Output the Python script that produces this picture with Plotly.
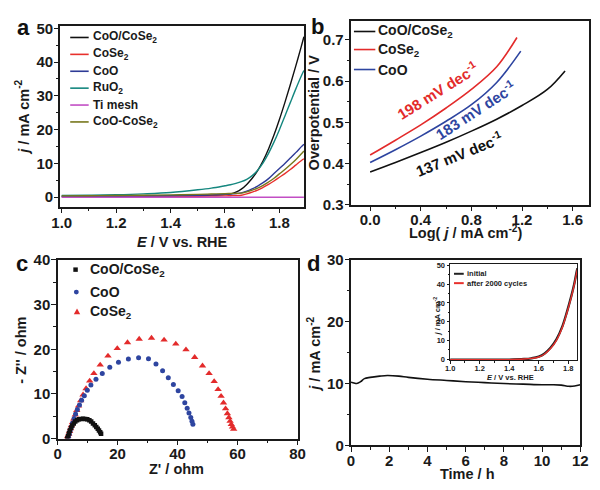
import plotly.graph_objects as go

W, H = 600, 490
def X(px): return px / W
def Y(py): return 1 - py / H

FONT = "Liberation Sans, Arial, sans-serif"
AX = "#1a1a1a"

# ---------------- Panel a: LSV ----------------
a_E = [1.0, 1.1, 1.2, 1.3, 1.4, 1.5, 1.55, 1.6, 1.62, 1.64, 1.66, 1.68, 1.70, 1.72, 1.74,
       1.76, 1.78, 1.80, 1.82, 1.84, 1.86, 1.88, 1.89]
a_coo_cose2 = [0.3, 0.3, 0.3, 0.35, 0.4, 0.5, 0.55, 0.8, 1.0, 1.5, 2.4, 3.8, 5.6, 7.9, 10.8,
               14.3, 18.4, 23.0, 28.0, 33.3, 38.8, 44.5, 47.5]
a_cose2 = [0.1, 0.1, 0.15, 0.2, 0.25, 0.3, 0.35, 0.4, 0.45, 0.5, 0.6, 1.0, 1.5, 2.1, 2.9,
           3.8, 4.8, 5.9, 7.0, 8.2, 9.5, 10.8, 11.4]
a_coo = [0.2, 0.25, 0.3, 0.35, 0.45, 0.6, 0.7, 0.85, 0.95, 1.1, 1.3, 1.8, 2.5, 3.3, 4.3,
         5.5, 7.0, 8.5, 10.0, 11.6, 13.2, 14.9, 15.7]
a_ruo2 = [0.5, 0.6, 0.75, 1.0, 1.4, 2.2, 2.7, 3.4, 3.7, 4.1, 4.6, 5.3, 6.4, 8.0, 10.2,
          13.0, 16.3, 20.0, 24.0, 28.0, 32.0, 35.8, 37.5]
a_ti = [0.0] * 23
a_mix = [0.4, 0.45, 0.5, 0.6, 0.7, 0.85, 0.95, 1.05, 1.1, 1.15, 1.2, 1.6, 2.1, 2.7, 3.5,
         4.5, 5.6, 6.9, 8.2, 9.6, 11.1, 12.8, 13.7]
a_names = ["CoO/CoSe<sub>2</sub>", "CoSe<sub>2</sub>", "CoO", "RuO<sub>2</sub>", "Ti mesh",
           "CoO-CoSe<sub>2</sub>"]
a_colors = ["#111111", "#e8302c", "#2e3b96", "#15877f", "#c24ec4", "#77771c"]

# ---------------- Panel b: Tafel ----------------
b_x_coo_cose2 = [0.0, 0.2, 0.4, 0.6, 0.8, 1.0, 1.2, 1.4, 1.54]
b_y_coo_cose2 = [0.380, 0.403, 0.427, 0.452, 0.479, 0.508, 0.541, 0.580, 0.625]
b_x_cose2 = [0.0, 0.2, 0.4, 0.6, 0.8, 1.0, 1.16]
b_y_cose2 = [0.421, 0.457, 0.494, 0.535, 0.580, 0.635, 0.706]
b_x_coo = [0.0, 0.2, 0.4, 0.6, 0.8, 1.0, 1.19]
b_y_coo = [0.403, 0.434, 0.467, 0.503, 0.543, 0.597, 0.673]
b_names = ["CoO/CoSe<sub>2</sub>", "CoSe<sub>2</sub>", "CoO"]
b_colors = ["#111111", "#e32b2b", "#2e45a0"]
b_slopes = ["198 mV dec<sup>-1</sup>", "183 mV dec<sup>-1</sup>", "137 mV dec<sup>-1</sup>"]

# ---------------- Panel c: Nyquist ----------------
c_zr_coo_cose2 = [3.2, 3.5, 3.8, 4.1, 4.5, 4.9, 5.4, 5.9, 6.5, 7.1, 7.8, 8.5, 9.2, 9.9, 10.6,
                  11.2, 11.8, 12.4, 12.9, 13.4, 13.8, 14.2, 14.5]
c_zi_coo_cose2 = [0.0, 0.6, 1.2, 1.8, 2.4, 2.9, 3.4, 3.8, 4.1, 4.3, 4.4, 4.45, 4.4, 4.3, 4.1,
                  3.8, 3.4, 3.0, 2.6, 2.2, 1.8, 1.4, 1.1]
c_zr_coo = [3.6, 3.9, 4.2, 4.6, 5.0, 5.5, 6.0, 6.6, 7.3, 8.0, 8.9, 9.9, 11.1, 12.8, 14.9,
            17.4, 20.3, 23.6, 27.0, 30.3, 32.8, 35.0, 36.9, 38.6, 40.2, 41.5, 42.4, 43.2,
            43.8, 44.4, 44.8, 45.1]
c_zi_coo = [0.3, 1.0, 1.8, 2.6, 3.5, 4.5, 5.5, 6.5, 7.5, 8.6, 9.6, 10.8, 12.0, 13.3, 14.6,
            16.0, 17.1, 17.8, 18.1, 17.9, 16.7, 15.2, 13.6, 12.1, 10.7, 9.4, 8.0, 6.8,
            5.7, 4.7, 3.9, 3.2]
c_zr_cose2 = [3.2, 3.4, 3.7, 4.0, 4.3, 4.6, 5.0, 5.4, 5.9, 6.4, 7.0, 7.7, 8.5, 9.5, 10.7,
              12.1, 14.2, 16.8, 19.9, 23.3, 27.2, 31.3, 35.5, 39.4, 42.8, 45.7, 48.3, 50.5,
              52.2, 53.5, 54.5, 55.3, 56.0, 56.6, 57.1, 57.5, 57.9, 58.3, 58.7]
c_zi_cose2 = [0.0, 0.5, 1.0, 1.6, 2.2, 2.9, 3.6, 4.4, 5.3, 6.3, 7.3, 8.5, 9.8, 11.2, 12.9,
              14.6, 16.5, 18.5, 20.2, 21.5, 22.3, 22.5, 22.1, 21.2, 19.9, 18.2, 16.3, 14.6,
              12.8, 11.0, 9.5, 8.0, 6.7, 5.6, 4.7, 3.9, 3.2, 2.6, 2.1]
c_names = ["CoO/CoSe<sub>2</sub>", "CoO", "CoSe<sub>2</sub>"]
c_colors = ["#111111", "#2e45a0", "#e32b2b"]

# ---------------- Panel d: stability ----------------
d_t = [0, 0.15, 0.3, 0.5, 0.7, 1.0, 1.5, 1.9, 2.5, 3, 4, 5, 6, 7, 8, 9, 10, 10.5, 11, 11.4,
       11.7, 12]
d_j = [10.2, 10.1, 10.0, 10.3, 10.8, 11.0, 11.2, 11.3, 11.2, 11.0, 10.7, 10.5, 10.3, 10.15,
       10.0, 9.9, 9.8, 9.8, 9.75, 9.55, 9.6, 9.8]
# inset
i_E = [1.0, 1.2, 1.4, 1.5, 1.55, 1.6, 1.64, 1.68, 1.72, 1.76, 1.79, 1.82, 1.84, 1.855, 1.862]
i_initial = [-0.4, -0.4, -0.3, 0.0, 0.4, 1.3, 3.0, 6.0, 10.5, 17.5, 25.0, 33.5, 40.0, 46.0, 48.5]
i_after = [-0.4, -0.4, -0.3, 0.0, 0.35, 1.1, 2.7, 5.6, 10.0, 17.0, 24.5, 33.0, 39.5, 45.5, 48.0]
i_names = ["initial", "after 2000 cycles"]
i_colors = ["#222222", "#e8302c"]

fig = go.Figure()

for ys, c in zip([a_coo_cose2, a_cose2, a_coo, a_ruo2, a_ti, a_mix], a_colors):
    fig.add_trace(go.Scatter(x=a_E, y=ys, mode="lines", line=dict(color=c, width=1.4, shape="spline"),
                             xaxis="x", yaxis="y"))

for xs, ys, c in [(b_x_coo_cose2, b_y_coo_cose2, b_colors[0]), (b_x_cose2, b_y_cose2, b_colors[1]),
                  (b_x_coo, b_y_coo, b_colors[2])]:
    fig.add_trace(go.Scatter(x=xs, y=ys, mode="lines", line=dict(color=c, width=1.6, shape="spline"),
                             xaxis="x2", yaxis="y2"))

for xs, ys, c, sym, sz in [(c_zr_cose2, c_zi_cose2, c_colors[2], "triangle-up", 6.5),
                           (c_zr_coo, c_zi_coo, c_colors[1], "circle", 5),
                           (c_zr_coo_cose2, c_zi_coo_cose2, c_colors[0], "square", 4.5)]:
    fig.add_trace(go.Scatter(x=xs, y=ys, mode="markers", marker=dict(color=c, symbol=sym, size=sz),
                             xaxis="x3", yaxis="y3"))

fig.add_trace(go.Scatter(x=d_t, y=d_j, mode="lines", line=dict(color="#111111", width=1.6, shape="spline"),
                         xaxis="x4", yaxis="y4"))
fig.add_trace(go.Scatter(x=i_E, y=i_initial, mode="lines", line=dict(color=i_colors[0], width=2.4, shape="spline"),
                         xaxis="x5", yaxis="y5"))
fig.add_trace(go.Scatter(x=i_E, y=i_after, mode="lines", line=dict(color=i_colors[1], width=1.4, shape="spline"),
                         xaxis="x5", yaxis="y5"))


def axis(domain, rng, dtick, mdtick, anchor, tick0=None, fs=15, tl=4.5, mtl=2.5, lw=1.6,
         fmt=None, standoff=0):
    d = dict(domain=domain, range=rng, dtick=dtick, anchor=anchor, showgrid=False, zeroline=False,
             showline=True, mirror=True, linecolor=AX, linewidth=lw, ticks="outside", ticklen=tl,
             tickwidth=1.3, tickcolor=AX, ticklabelstandoff=standoff,
             tickfont=dict(family=FONT, size=fs, color="#1a1a1a", weight="bold"),
             minor=dict(dtick=mdtick, ticks="outside", ticklen=mtl, tickwidth=1, tickcolor=AX))
    if tick0 is not None:
        d["tick0"] = tick0
        d["minor"]["tick0"] = tick0
    if fmt:
        d["tickformat"] = fmt
    return d

fig.update_layout(
    width=W, height=H, margin=dict(l=0, r=0, t=0, b=0),
    paper_bgcolor="white", plot_bgcolor="white", showlegend=False,
    xaxis=axis([X(53), X(304)], [0.9954, 1.8918], 0.2, 0.1, "y", tick0=1.0, fmt=".1f", standoff=-3),
    yaxis=axis([Y(205), Y(18)], [-2.86, 50.57], 10, 5, "x", tick0=0, standoff=-2),
    xaxis2=axis([X(352), X(597)], [-0.151, 1.730], 0.4, 0.2, "y2", tick0=0, fmt=".1f", standoff=-4),
    yaxis2=axis([Y(203), Y(12)], [0.3, 0.747], 0.1, 0.05, "x2", tick0=0.3, fmt=".1f", standoff=-2),
    xaxis3=axis([X(50), X(297)], [0, 80], 20, 10, "y3", tick0=0, standoff=-4),
    yaxis3=axis([Y(445), Y(260)], [0, 40], 10, 5, "x3", tick0=0, standoff=-2),
    xaxis4=axis([X(352), X(588)], [0, 12], 2, 1, "y4", tick0=0, standoff=-4),
    yaxis4=axis([Y(452), Y(260)], [0, 30], 10, 5, "x4", tick0=0, standoff=-2),
    xaxis5=axis([X(454), X(585)], [1.0, 1.862], 0.2, 0.1, "y5", tick0=1.0, fs=7.5, tl=2.5, mtl=1.5,
                lw=1.2, fmt=".1f", standoff=-2),
    yaxis5=axis([Y(364), Y(264)], [-0.7, 50.9], 10, 5, "x5", tick0=0, fs=7.5, tl=2.5, mtl=1.5, lw=1.2),
)

ann = []
shapes = []

def text(px, py, s, size=14, color="#1a1a1a", xanchor="center", angle=0):
    ann.append(dict(x=X(px), y=Y(py), xref="paper", yref="paper", text=s, showarrow=False,
                    xanchor=xanchor, yanchor="middle", textangle=angle,
                    font=dict(family=FONT, size=size, color=color, weight="bold")))

# panel letters
text(15, 19, "a", 22, "#111111")
text(318, 18, "b", 22, "#111111")
text(13, 264, "c", 22, "#111111")
text(313, 264, "d", 22, "#111111")

# axis titles
text(178.5, 241, "<i>E</i> / V vs. RHE", 14.5)
text(14, 112, "<i>j</i> / mA cm<sup>-2</sup>", 14.5, angle=-90)
text(470, 231, "Log( <i>j</i> / mA cm<sup>-2</sup>)", 14.5)
text(314, 107, "Overpotential / V", 14.5, angle=-90)
text(172, 477, "Z' / ohm", 14.5)
text(12.5, 354, "- Z'' / ohm", 14.5, angle=-90)
text(472, 481.5, "Time / h", 14.5)
text(313, 358, "<i>j</i> / mA cm<sup>-2</sup>", 14.5, angle=-90)
text(516, 382, "<i>E</i> / V vs. RHE", 7.5)
text(440, 318, "<i>j</i> / mA cm<sup>-2</sup>", 7.5, angle=-90)

# panel b slope labels
text(440, 84, b_slopes[0], 15, b_colors[1], angle=-32)
text(480, 104, b_slopes[1], 15, b_colors[2], angle=-33)
text(463, 150, b_slopes[2], 15, b_colors[0], angle=-22)

def line_leg(x0, x1, py, color, w=1.6):
    shapes.append(dict(type="line", xref="paper", yref="paper", x0=X(x0), x1=X(x1), y0=Y(py), y1=Y(py),
                       line=dict(color=color, width=w)))

# legend a
for i, (n, c) in enumerate(zip(a_names, a_colors)):
    py = 29.5 + 17.5 * i
    line_leg(63, 82, py, c)
    text(84, py, n, 12, xanchor="left")

# legend b
for i, (n, c) in enumerate(zip(b_names, b_colors)):
    py = [23.3, 42, 62.7][i]
    line_leg(355, 377, py, c)
    text(378, py, n, 14, xanchor="left")

# legend c
sq = (68.5, 270)
shapes.append(dict(type="rect", xref="paper", yref="paper", x0=X(sq[0] - 2.3), x1=X(sq[0] + 2.3),
                   y0=Y(sq[1] + 2.3), y1=Y(sq[1] - 2.3), fillcolor=c_colors[0], line=dict(width=0)))
ci = (69.3, 293.3)
shapes.append(dict(type="circle", xref="paper", yref="paper", x0=X(ci[0] - 2.5), x1=X(ci[0] + 2.5),
                   y0=Y(ci[1] + 2.5), y1=Y(ci[1] - 2.5), fillcolor=c_colors[1], line=dict(width=0)))
tr = (70, 313.5)
shapes.append(dict(type="path", xref="paper", yref="paper",
                   path=f"M {X(tr[0]-3.3)},{Y(tr[1]+2.6)} L {X(tr[0]+3.3)},{Y(tr[1]+2.6)} L {X(tr[0])},{Y(tr[1]-3.2)} Z",
                   fillcolor=c_colors[2], line=dict(width=0)))
for n, py in zip(c_names, [270, 293.3, 313.5]):
    text(81.5, py, n, 14, xanchor="left")

# inset legend
for n, c, py in zip(i_names, i_colors, [274.3, 284]):
    line_leg(458, 468, py, c, 2.0)
    text(469.5, py, n, 7.5, xanchor="left")

fig.update_layout(annotations=ann, shapes=shapes)
fig.write_html("out.html", config={"displayModeBar": False},
               post_script="document.body.style.margin='0';document.body.style.overflow='hidden';")
